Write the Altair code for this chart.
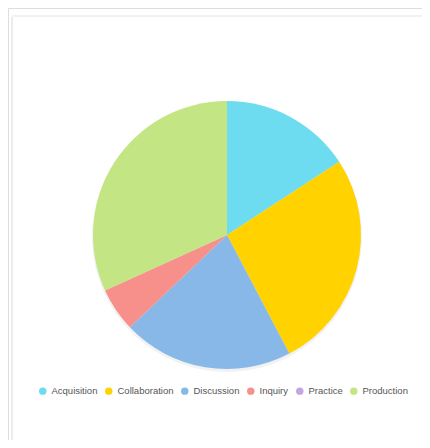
import altair as alt
import pandas as pd

categories = ["Acquisition", "Collaboration", "Discussion", "Inquiry", "Practice", "Production"]
values = [15.8, 26.5, 20.6, 5.3, 0.0, 31.8]
colors = ["#6EDCF0", "#FFD200", "#88B8E8", "#F7908B", "#C3A6E0", "#C3E584"]

df = pd.DataFrame({"category": categories, "value": values, "order": list(range(len(categories)))})

W, H = 414, 432
cx, cy, R = 219, 227, 134

one = pd.DataFrame({"a": [0]})
left_edge = alt.Chart(one).mark_rule(color="#ececec", strokeWidth=2).encode(
    x=alt.value(4), y=alt.value(9), y2=alt.value(H)
)
top_edge = alt.Chart(one).mark_rule(color="#f2f2f2", strokeWidth=2).encode(
    x=alt.value(4), x2=alt.value(W), y=alt.value(8)
)

shadow = alt.Chart(df).mark_arc(radius=R + 1, fill="#000000", opacity=0.05).encode(
    theta=alt.Theta("value:Q", stack=True),
    order=alt.Order("order:Q"),
    x=alt.value(cx), y=alt.value(cy + 2),
)

pie = alt.Chart(df).mark_arc(radius=R).encode(
    theta=alt.Theta("value:Q", stack=True),
    order=alt.Order("order:Q"),
    color=alt.Color(
        "category:N",
        scale=alt.Scale(domain=categories, range=colors),
        legend=alt.Legend(
            title=None, orient="none", direction="horizontal",
            legendX=30, legendY=378,
            symbolType="circle", symbolSize=55, symbolStrokeWidth=0,
            labelFontSize=9.5, labelColor="#555555", labelFont="Liberation Sans",
            columnPadding=6, symbolOffset=0, labelOffset=4,
        ),
    ),
    x=alt.value(cx), y=alt.value(cy),
)

chart = alt.layer(left_edge, top_edge, shadow, pie).properties(
    width=W, height=H, autosize=alt.AutoSizeParams(type="none"), padding=0
).configure_view(stroke=None).configure(background="white")

chart.save("out.html", embed_options={"renderer": "svg", "actions": False})
